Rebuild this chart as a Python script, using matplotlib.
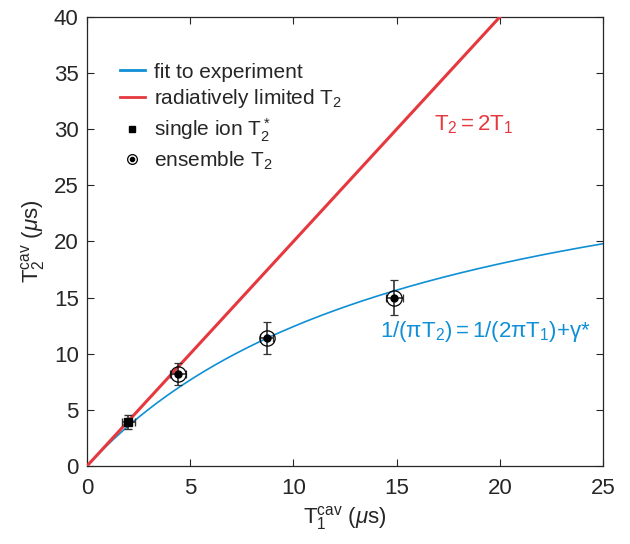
import numpy as np
import matplotlib.pyplot as plt
from matplotlib.lines import Line2D

plt.rcParams['font.family'] = ['Liberation Sans', 'DejaVu Sans']
plt.rcParams['mathtext.fontset'] = 'custom'
plt.rcParams['mathtext.rm'] = 'Liberation Sans'
plt.rcParams['mathtext.it'] = 'Liberation Sans:italic'

# measured points (T1, T2) with error bars, in microseconds
single_t1 = [2.0]
single_t2 = [3.95]
single_t1_err = [0.32]
single_t2_err = [0.62]

ens_t1 = [4.42, 8.71, 14.89]
ens_t2 = [8.2, 11.4, 15.0]
ens_t1_err = [0.4, 0.31, 0.42]
ens_t2_err = [0.94, 1.4, 1.53]

# fit parameter: pi * gamma_star, in 1/us
pi_gamma_star = 0.0305

# radiative limit line end points
rad_t1 = [0, 20]

blue = '#0f8fd6'
red = '#e5383f'
dark = '#262626'

fig = plt.figure(figsize=(6.3, 5.44), dpi=100)
ax = fig.add_axes([87 / 630, 1 - 466 / 544, 516 / 630, 449 / 544])

# fit curve from the model written on the chart
t1 = np.linspace(0.001, 25, 300)
t2_fit = 1.0 / (1.0 / (2 * t1) + pi_gamma_star)
ax.plot(t1, t2_fit, color=blue, lw=1.2, zorder=2)

# radiatively limited T2 = 2 T1
ax.plot(rad_t1, [2 * v for v in rad_t1], color=red, lw=2.2, zorder=3)

ax.errorbar(single_t1, single_t2, xerr=single_t1_err, yerr=single_t2_err,
            fmt='s', ms=6, color='black', ecolor='#333333', elinewidth=1.2,
            capsize=3, zorder=4)
ax.errorbar(ens_t1, ens_t2, xerr=ens_t1_err, yerr=ens_t2_err,
            fmt='o', ms=11, mfc='none', mec='black', mew=0.9,
            ecolor='#333333', elinewidth=1.2, capsize=3, zorder=4)
ax.plot(ens_t1, ens_t2, 'o', ms=5, color='black', zorder=5)

ax.set_xlim(0, 25)
ax.set_ylim(0, 40)
ax.set_xticks(range(0, 26, 5))
ax.set_yticks(range(0, 41, 5))
ax.tick_params(direction='in', length=5, width=0.8, top=True, right=True,
               labelsize=16, colors=dark)
ax.tick_params(axis='x', pad=9)
ax.tick_params(axis='y', pad=6)
for s in ax.spines.values():
    s.set_color(dark)
    s.set_linewidth(0.9)

ax.set_xlabel(r'$\mathregular{T_1^{cav}}$ ($\mu$s)', fontsize=16, color=dark, labelpad=3)
ax.set_ylabel(r'$\mathregular{T_2^{cav}}$ ($\mu$s)', fontsize=16, color=dark, labelpad=5)

ax.text(16.8, 30.4, r'$\mathregular{T_2 = 2T_1}$', color=red, fontsize=16, va='center')
ax.text(14.2, 12.0, r'$\mathregular{1/(\pi T_2) = 1/(2\pi T_1)}$+$\mathregular{\gamma}$*',
        color=blue, fontsize=16, va='center')

handles = [
    Line2D([], [], color=blue, lw=2),
    Line2D([], [], color=red, lw=2),
    Line2D([], [], ls='none', marker='s', ms=5, color='black'),
    (Line2D([], [], ls='none', marker='o', ms=7, mfc='none', mec='black', mew=0.9),
     Line2D([], [], ls='none', marker='o', ms=3, color='black')),
]
labels = ['fit to experiment', r'radiatively limited $\mathregular{T_2}$',
          r'single ion $\mathregular{T_2^*}$', r'ensemble $\mathregular{T_2}$']
leg = ax.legend(handles, labels, loc='upper left', bbox_to_anchor=(0.047, 0.917),
                frameon=False, fontsize=15, handlelength=1.2, handletextpad=0.45,
                labelspacing=0.28, borderaxespad=0)
for t in leg.get_texts():
    t.set_color(dark)

fig.savefig('out.png', dpi=100)
